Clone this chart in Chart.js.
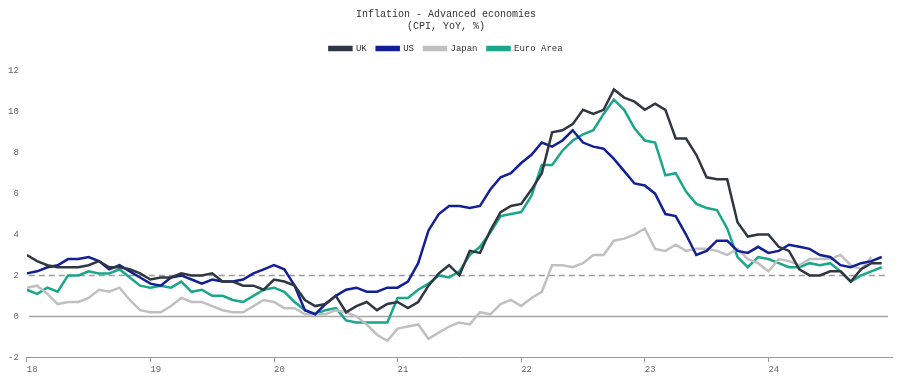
<!DOCTYPE html>
<html><head><meta charset="utf-8">
<script src="https://cdn.jsdelivr.net/npm/chart.js@4.4.1/dist/chart.umd.min.js"></script>
<style>html,body{margin:0;padding:0;background:#fff}#wrap{width:900px;height:381px;position:relative}</style>
</head><body><div id="wrap"><canvas id="c"></canvas></div>
<script>
// Year tick labels (January of each year)
const yearLabels = ['18', '19', '20', '21', '22', '23', '24'];
// Monthly series, Jan 2018 - Dec 2024
const uk = [
  3.0, 2.7, 2.5, 2.4, 2.4, 2.4, 2.5, 2.7, 2.4, 2.4, 2.3, 2.1,
  1.8, 1.9, 1.9, 2.1, 2.0, 2.0, 2.1, 1.7, 1.7, 1.5, 1.5, 1.3,
  1.8, 1.7, 1.5, 0.8, 0.5, 0.6, 1.0, 0.2, 0.5, 0.7, 0.3, 0.6,
  0.7, 0.4, 0.7, 1.5, 2.1, 2.5, 2.0, 3.2, 3.1, 4.2, 5.1, 5.4,
  5.5, 6.2, 7.0, 9.0, 9.1, 9.4, 10.1, 9.9, 10.1, 11.1, 10.7, 10.5,
  10.1, 10.4, 10.1, 8.7, 8.7, 7.9, 6.8, 6.7, 6.7, 4.6, 3.9, 4.0,
  4.0, 3.4, 3.2, 2.3, 2.0, 2.0, 2.2, 2.2, 1.7, 2.3, 2.6, 2.6
];
const us = [
  2.1, 2.2, 2.4, 2.5, 2.8, 2.8, 2.9, 2.7, 2.3, 2.5, 2.2, 1.9,
  1.6, 1.5, 1.9, 2.0, 1.8, 1.6, 1.8, 1.7, 1.7, 1.8, 2.1, 2.3,
  2.5, 2.3, 1.5, 0.3, 0.1, 0.6, 1.0, 1.3, 1.4, 1.2, 1.2, 1.4,
  1.4, 1.7, 2.6, 4.2, 5.0, 5.4, 5.4, 5.3, 5.4, 6.2, 6.8, 7.0,
  7.5, 7.9, 8.5, 8.3, 8.6, 9.1, 8.5, 8.3, 8.2, 7.7, 7.1, 6.5,
  6.4, 6.0, 5.0, 4.9, 4.0, 3.0, 3.2, 3.7, 3.7, 3.2, 3.1, 3.4,
  3.1, 3.2, 3.5, 3.4, 3.3, 3.0, 2.9, 2.5, 2.4, 2.6, 2.7, 2.9
];
const japan = [
  1.4, 1.5, 1.1, 0.6, 0.7, 0.7, 0.9, 1.3, 1.2, 1.4, 0.8, 0.3,
  0.2, 0.2, 0.5, 0.9, 0.7, 0.7, 0.5, 0.3, 0.2, 0.2, 0.5, 0.8,
  0.7, 0.4, 0.4, 0.1, 0.1, 0.1, 0.3, 0.2, 0.0, -0.4, -0.9, -1.2,
  -0.6, -0.5, -0.4, -1.1, -0.8, -0.5, -0.3, -0.4, 0.2, 0.1, 0.6, 0.8,
  0.5, 0.9, 1.2, 2.5, 2.5, 2.4, 2.6, 3.0, 3.0, 3.7, 3.8, 4.0,
  4.3, 3.3, 3.2, 3.5, 3.2, 3.3, 3.3, 3.2, 3.0, 3.3, 2.8, 2.6,
  2.2, 2.8, 2.7, 2.5, 2.8, 2.8, 2.8, 3.0, 2.5, 2.3, 2.9, null
];
const euro = [
  1.3, 1.1, 1.4, 1.2, 2.0, 2.0, 2.2, 2.1, 2.1, 2.3, 1.9, 1.5,
  1.4, 1.5, 1.4, 1.7, 1.2, 1.3, 1.0, 1.0, 0.8, 0.7, 1.0, 1.3,
  1.4, 1.2, 0.7, 0.3, 0.1, 0.3, 0.4, -0.2, -0.3, -0.3, -0.3, -0.3,
  0.9, 0.9, 1.3, 1.6, 2.0, 1.9, 2.2, 3.0, 3.4, 4.1, 4.9, 5.0,
  5.1, 5.9, 7.4, 7.4, 8.1, 8.6, 8.9, 9.1, 9.9, 10.6, 10.1, 9.2,
  8.6, 8.5, 6.9, 7.0, 6.1, 5.5, 5.3, 5.2, 4.3, 2.9, 2.4, 2.9,
  2.8, 2.6, 2.4, 2.4, 2.6, 2.5, 2.6, 2.2, 1.7, 2.0, 2.2, 2.4
];
const refValues = [0, 2]; // zero line and 2% target line

const toPts = arr => arr.map((v, i) => ({ x: i, y: v }));
const MONO = "'Liberation Mono', 'DejaVu Sans Mono', monospace";

const refLinesPlugin = {
  id: 'refLines',
  beforeDatasetsDraw(chart) {
    const { ctx, chartArea, scales } = chart;
    ctx.save();
    refValues.forEach(v => {
      const y = Math.round(scales.y.getPixelForValue(v)) + 0.5;
      ctx.beginPath();
      ctx.lineWidth = 1.5;
      if (v === 0) { ctx.strokeStyle = '#a6a6a6'; ctx.setLineDash([]); }
      else { ctx.strokeStyle = '#9a9a9a'; ctx.setLineDash([6, 4]); }
      ctx.moveTo(chartArea.left + 2, y);
      ctx.lineTo(chartArea.right - 4, y);
      ctx.stroke();
    });
    ctx.restore();
  }
};

const legendSpacer = {
  id: 'legendSpacer',
  beforeInit(chart) {
    const origFit = chart.legend.fit;
    chart.legend.fit = function () {
      origFit.bind(chart.legend)();
      this.height += 8;
    };
  }
};

const ds = (label, data, color) => ({
  label, data: toPts(data), borderColor: color, backgroundColor: color,
  borderWidth: 2.5, pointRadius: 0, tension: 0, spanGaps: false
});

new Chart(document.getElementById('c'), {
  type: 'line',
  data: {
    datasets: [
      ds('UK', uk, '#2f3742'),
      ds('US', us, '#131f94'),
      ds('Japan', japan, '#c0c0c0'),
      ds('Euro Area', euro, '#1aa68a')
    ]
  },
  plugins: [refLinesPlugin, legendSpacer],
  options: {
    responsive: true, maintainAspectRatio: false, animation: false, devicePixelRatio: 1,
    layout: { padding: { top: 6, left: 0, right: 8, bottom: 4 } },
    plugins: {
      title: {
        display: true,
        text: ['Inflation - Advanced economies', '(CPI, YoY, %)'],
        color: '#333', font: { family: MONO, size: 10, weight: 'normal', lineHeight: 1.2 },
        padding: { top: 2, bottom: 2 }
      },
      legend: {
        display: true,
        labels: {
          color: '#333', font: { family: MONO, size: 9 },
          boxWidth: 22, boxHeight: 3, padding: 10
        }
      },
      tooltip: { enabled: false }
    },
    scales: {
      x: {
        type: 'linear', min: 0, max: 84,
        afterBuildTicks: axis => { axis.ticks = axis.ticks.filter(t => t.value < 84); },
        ticks: {
          stepSize: 12, autoSkip: false, maxRotation: 0, align: 'start', padding: 2,
          color: '#666', font: { family: MONO, size: 9 },
          callback: v => yearLabels[v / 12] ?? ''
        },
        grid: { display: true, drawOnChartArea: false, drawTicks: true, tickLength: 5, tickColor: '#999' },
        border: { display: true, color: '#999', width: 1 }
      },
      y: {
        min: -2, max: 12,
        ticks: { stepSize: 2, color: '#666', padding: 8, font: { family: MONO, size: 9 } },
        grid: { display: false, drawTicks: false },
        border: { display: false }
      }
    }
  }
});
</script>
</body></html>
